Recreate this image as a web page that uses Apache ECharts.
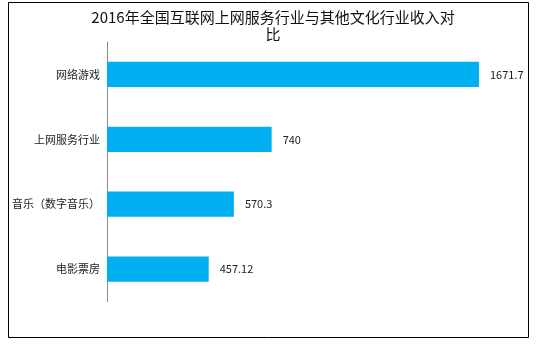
<!DOCTYPE html>
<html><head><meta charset="utf-8">
<script src="https://cdn.jsdelivr.net/npm/echarts@6/dist/echarts.min.js"></script>
<style>html,body{margin:0;padding:0;background:#fff}#c{width:547px;height:345px}</style>
</head><body><div id="c"></div>
<script>
const categories = ['网络游戏','上网服务行业','音乐（数字音乐）','电影票房'];
const values = [1671.7, 740, 570.3, 457.12];
const titleText = '2016年全国互联网上网服务行业与其他文化行业收入对\n比';
const font = '"Noto Sans CJK SC", "Noto Sans", sans-serif';
const chart = echarts.init(document.getElementById('c'));
chart.setOption({
  animation:false,
  backgroundColor:'#fff',
  title:{text:titleText,left:268,top:4,textAlign:'center',textStyle:{fontFamily:font,fontSize:15,fontWeight:'normal',color:'#111',lineHeight:17}},
  graphic:[{type:'rect',shape:{x:8.5,y:2.5,width:520,height:335},style:{fill:'none',stroke:'#000',lineWidth:1}}],
  grid:{left:107,top:42,width:400.5,height:259.5,containLabel:false},
  xAxis:{type:'value',min:0,max:1800,show:false},
  yAxis:{type:'category',inverse:true,data:categories,
    axisLine:{show:true,lineStyle:{color:'#8c8c8c',width:1}},
    axisTick:{show:false},
    axisLabel:{margin:7,fontFamily:font,fontSize:11,color:'#222'}},
  series:[{type:'bar',data:values,barCategoryGap:'61%',itemStyle:{color:'#00B0F0'},
    label:{show:true,position:'right',distance:11,fontFamily:font,fontSize:11,color:'#222'}}]
});
</script></body></html>
